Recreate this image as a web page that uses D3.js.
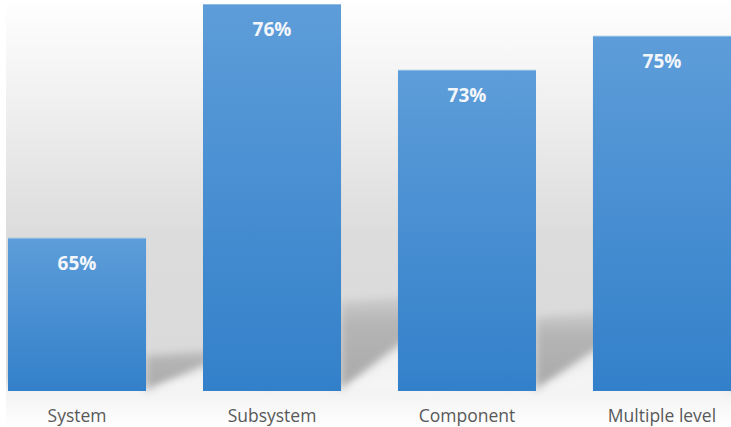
<!DOCTYPE html>
<html><head><meta charset="utf-8">
<script src="https://cdn.jsdelivr.net/npm/d3@7"></script>
<style>html,body{margin:0;padding:0;background:#fff;}svg{display:block;}</style>
</head><body>
<script>
const categories = ["System", "Subsystem", "Component", "Multiple level"];
const values = [65.0, 76.0, 72.9, 74.5];
const valueLabels = ["65%", "76%", "73%", "75%"];

const W = 731, H = 427;
const svg = d3.select("body").append("svg").attr("width", W).attr("height", H);
const defs = svg.append("defs");

const x = d3.scaleBand().domain(categories).range([8, 731]).paddingInner(0.292).paddingOuter(0);
const y = d3.scaleLinear().domain([57.8, 76]).range([391, 4]);
const yb = y.range()[0];

// background gradient
const bg = defs.append("linearGradient").attr("id","bg")
  .attr("gradientUnits","userSpaceOnUse").attr("x1",0).attr("y1",0).attr("x2",0).attr("y2", H);
[[0,"#ffffff"],[0.08,"#fafafa"],[0.55,"#dcdcdc"],[0.88,"#dadada"],[0.92,"#f3f3f3"],[1,"#ffffff"]]
  .forEach(([o,c]) => bg.append("stop").attr("offset",o).attr("stop-color",c));
svg.append("rect").attr("x",6).attr("y",0).attr("width",W-6).attr("height",H).attr("fill","url(#bg)");

const fl = defs.append("linearGradient").attr("id","floor").attr("x1",0).attr("y1",0).attr("x2",0).attr("y2",1);
fl.append("stop").attr("offset",0).attr("stop-color","#ececec");
fl.append("stop").attr("offset",1).attr("stop-color","#f6f6f6");

const sg = defs.append("linearGradient").attr("id","shadow").attr("x1",0).attr("y1",1).attr("x2",0).attr("y2",0);
sg.append("stop").attr("offset",0).attr("stop-color","#a9a9a9").attr("stop-opacity",1);
sg.append("stop").attr("offset",0.7).attr("stop-color","#b5b5b5").attr("stop-opacity",1);
sg.append("stop").attr("offset",1).attr("stop-color","#c4c4c4").attr("stop-opacity",0.6);

defs.append("filter").attr("id","blur").attr("x","-30%").attr("y","-30%").attr("width","160%").attr("height","160%")
  .append("feGaussianBlur").attr("stdDeviation",4);

const bargrad = defs.append("linearGradient").attr("id","bar").attr("x1",0).attr("y1",0).attr("x2",0).attr("y2",1);
bargrad.append("stop").attr("offset",0).attr("stop-color","#5d9dd9");
bargrad.append("stop").attr("offset",1).attr("stop-color","#3380ca");

const data = categories.map((c,i) => ({c, v: values[i], label: valueLabels[i]}));

// shadows
const shadowG = svg.append("g");
data.forEach(d => {
  const xr = x(d.c) + x.bandwidth();
  const h = yb - y(d.v);
  const slope = 0.2 + 0.0015 * h;
  const L = 110;
  const top = 0.23 * h;
  shadowG.append("path")
    .attr("d", `M${xr},${yb} L${xr+L},${yb - L*slope} L${xr+L},${yb - top - 8} L${xr},${yb - top} Z`)
    .attr("fill", "url(#shadow)").attr("filter","url(#blur)");
  shadowG.append("path")
    .attr("d", `M${xr-2},${yb+2} L${xr+L},${yb - L*slope + 4} L${xr+L},${yb+4} Z`)
    .attr("fill", "url(#floor)").attr("filter","url(#blur)");
});

// bars
svg.append("g").selectAll("rect").data(data).join("rect")
  .attr("x", d => x(d.c)).attr("y", d => y(d.v))
  .attr("width", x.bandwidth()).attr("height", d => yb - y(d.v))
  .attr("fill", "url(#bar)");
svg.append("g").selectAll("line").data(data).join("line")
  .attr("x1", d => x(d.c)).attr("x2", d => x(d.c) + x.bandwidth())
  .attr("y1", d => y(d.v) + 0.5).attr("y2", d => y(d.v) + 0.5)
  .attr("stroke", "#8dbbe6").attr("stroke-width", 1);

// value labels
svg.append("g").selectAll("text").data(data).join("text")
  .attr("x", d => x(d.c) + x.bandwidth()/2).attr("y", d => y(d.v) + 32)
  .attr("text-anchor","middle").attr("fill","#f3f6fa")
  .style("font-family","'Open Sans', sans-serif").style("font-weight","700").style("font-size","19px")
  .text(d => d.label);

// category axis
const ax = svg.append("g").attr("transform", `translate(0,${yb})`)
  .call(d3.axisBottom(x).tickSize(0).tickPadding(19));
ax.select(".domain").remove();
ax.selectAll("text").attr("fill","#595959")
  .style("font-family","'Open Sans', sans-serif").style("font-size","17.5px");
</script>
</body></html>
